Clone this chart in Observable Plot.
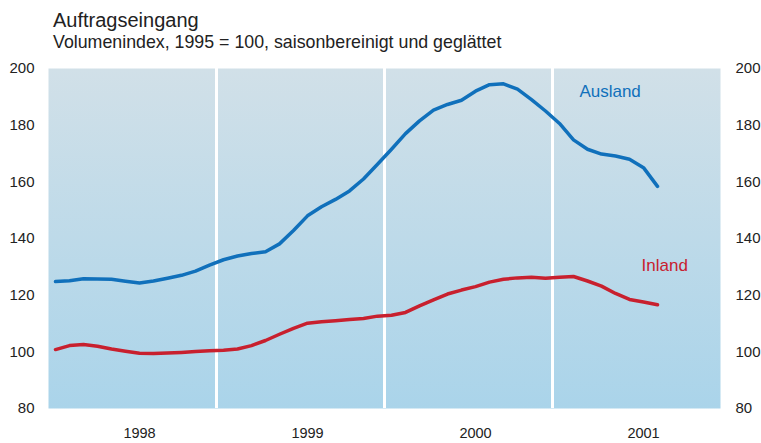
<!DOCTYPE html>
<html>
<head>
<meta charset="utf-8">
<script src="https://cdn.jsdelivr.net/npm/d3@7"></script>
<script src="https://cdn.jsdelivr.net/npm/@observablehq/plot@0.6"></script>
<style>
  html, body { margin: 0; padding: 0; background: #fff; }
  #wrap { position: relative; width: 761px; height: 443px; font-family: "Liberation Sans", Arial, sans-serif; color: #222; }
  #title { position: absolute; left: 53px; top: 10px; font-size: 20px; line-height: 20px; white-space: nowrap; }
  #subtitle { position: absolute; left: 53px; top: 34px; font-size: 17.8px; line-height: 17.8px; white-space: nowrap; }
  #chart { position: absolute; left: 0; top: 0; }
</style>
</head>
<body>
<div id="wrap">
  <div id="chart"></div>
  <div id="title">Auftragseingang</div>
  <div id="subtitle">Volumenindex, 1995 = 100, saisonbereinigt und geglättet</div>
</div>
<script>
// ---- data ----
const startYear = 1998;            // first month: January 1998 (monthly values)
const years = [1998, 1999, 2000, 2001];
const yearBreaks = [1999, 2000, 2001];
const yTicks = [80, 100, 120, 140, 160, 180, 200];

const ausland = [
  124.8, 125.1, 125.8, 125.7, 125.6, 124.9, 124.3, 125.0, 126.0, 127.0, 128.5, 130.6,
  132.5, 133.8, 134.7, 135.3, 138.1, 142.8, 148.0, 151.2, 153.8, 156.8, 161.0, 166.2,
  171.5, 177.0, 181.5, 185.3, 187.3, 188.8, 192.0, 194.3, 194.6, 192.7, 189.0, 185.0,
  180.6, 174.8, 171.5, 169.8, 169.1, 168.0, 165.0, 158.4
];
const inland = [
  100.8, 102.2, 102.6, 102.0, 101.0, 100.2, 99.5, 99.4, 99.6, 99.8, 100.1, 100.4,
  100.6, 101.0, 102.2, 104.0, 106.2, 108.3, 110.1, 110.6, 111.0, 111.4, 111.8, 112.6,
  112.9, 113.9, 116.2, 118.3, 120.4, 121.8, 123.0, 124.6, 125.6, 126.1, 126.3, 126.0,
  126.3, 126.6, 125.0, 123.2, 120.6, 118.5, 117.6, 116.6
];
const seriesLabels = [
  { name: "Ausland", t: 2001.16, v: 190.1 },
  { name: "Inland",  t: 2001.53, v: 128.5 }
];
const colors = { Ausland: "#1070bb", Inland: "#c8202e" };

// ---- rows ----
const monthPos = i => startYear + (i + 0.5) / 12;
const rows = [
  ...ausland.map((v, i) => ({ series: "Ausland", t: monthPos(i), v })),
  ...inland.map((v, i) => ({ series: "Inland", t: monthPos(i), v }))
];

const plot = Plot.plot({
  width: 761,
  height: 443,
  marginTop: 68,
  marginBottom: 35,
  marginLeft: 48,
  marginRight: 41,
  style: { fontFamily: "Liberation Sans, Arial, sans-serif", fontSize: "15px", color: "#222", background: "transparent" },
  x: { type: "linear", domain: [startYear, startYear + years.length], axis: null },
  y: { domain: [80, 200], axis: null },
  marks: [
    Plot.frame({ fill: "url(#bgGrad)", stroke: "none" }),
    Plot.ruleX(yearBreaks, { stroke: "white", strokeWidth: 3 }),
    Plot.axisY({ anchor: "left", ticks: yTicks, tickSize: 0, tickPadding: 14, label: null, fill: "#222", fontSize: 15 }),
    Plot.axisY({ anchor: "right", ticks: yTicks, tickSize: 0, tickPadding: 15, label: null, fill: "#222", fontSize: 15 }),
    Plot.text(years, { x: d => d + 0.5, frameAnchor: "bottom", dy: 29, dx: 7, text: d => String(d), fontSize: 14.5, fill: "#222" }),
    Plot.line(rows, { x: "t", y: "v", z: "series", stroke: d => colors[d.series], strokeWidth: 3.5, strokeLinejoin: "round", curve: "linear" }),
    Plot.text(seriesLabels, { x: "t", y: "v", text: "name", textAnchor: "start", lineAnchor: "bottom", fontSize: 17, fill: d => colors[d.name] })
  ]
});

// gradient background for the plot area
const ns = "http://www.w3.org/2000/svg";
const defs = document.createElementNS(ns, "defs");
defs.innerHTML = '<linearGradient id="bgGrad" x1="0" y1="0" x2="0" y2="1">' +
  '<stop offset="0%" stop-color="#d1e0e8"/>' +
  '<stop offset="100%" stop-color="#aad4ea"/>' +
  '</linearGradient>';
plot.insertBefore(defs, plot.firstChild);
document.getElementById("chart").appendChild(plot);
</script>
</body>
</html>
